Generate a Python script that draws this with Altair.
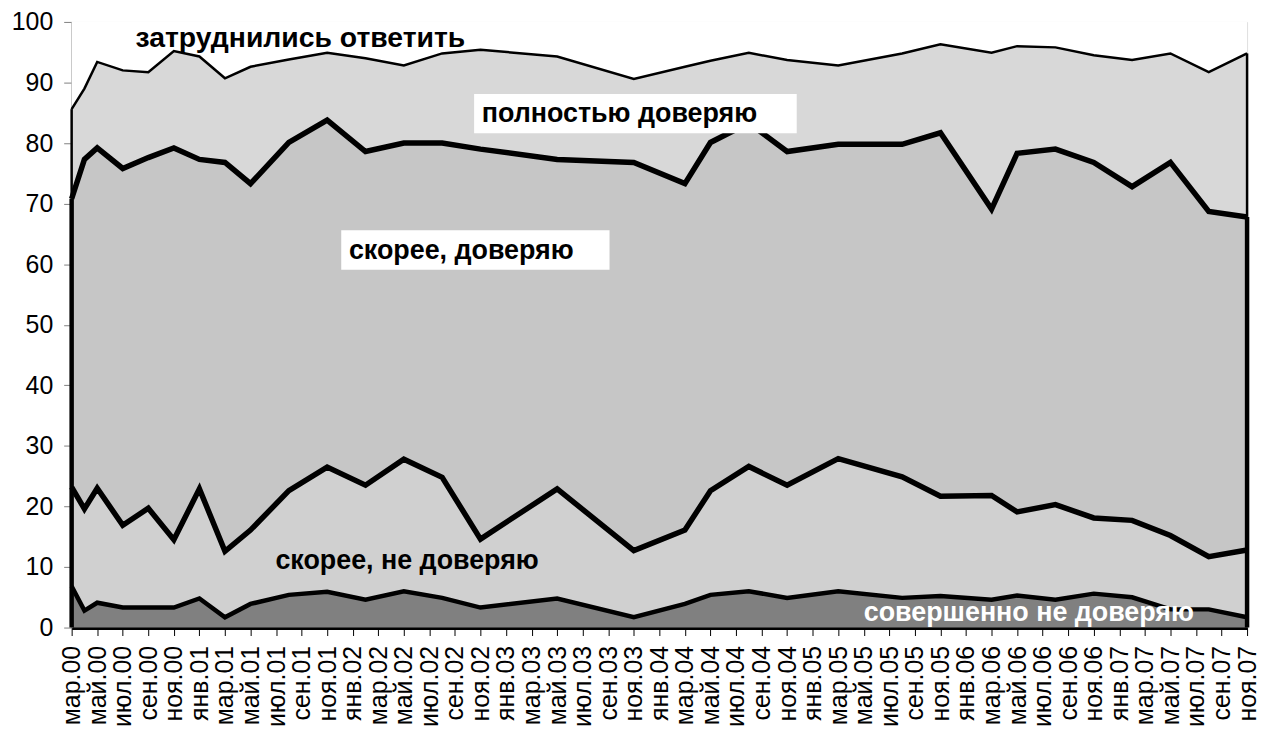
import altair as alt
import pandas as pd
import numpy as np

# survey dates as month index counted from March 2000 (0 = мар.00, 92 = ноя.07)
survey_month = [0, 1, 2, 4, 6, 8, 10, 12, 14, 17, 20, 23, 26, 29, 32, 38, 44,
                48, 50, 53, 56, 60, 65, 68, 72, 74, 77, 80, 83, 86, 89, 92]

# shares, % (bottom to top of the stack)
fully_distrust = [6.8, 2.8, 4.1, 3.3, 3.3, 3.3, 4.8, 1.7, 3.9, 5.4, 5.9, 4.6, 6.0, 4.9, 3.3, 4.8, 1.7,
                  3.9, 5.4, 6.0, 4.9, 6.0, 4.9, 5.2, 4.6, 5.3, 4.6, 5.6, 5.0, 3.0, 3.0, 1.7]
rather_distrust = [16.4, 16.8, 18.9, 13.6, 16.4, 11.2, 18.1, 10.9, 12.2, 17.2, 20.6, 18.9, 21.8, 19.9, 11.3, 18.1, 11.0,
                   12.2, 17.2, 20.6, 18.6, 21.9, 20.0, 16.5, 17.2, 13.8, 15.7, 12.5, 12.7, 12.2, 8.7, 11.1]
rather_trust = [47.6, 57.7, 56.2, 58.9, 57.9, 64.7, 54.4, 64.2, 57.2, 57.5, 57.3, 55.1, 52.2, 55.2, 64.4, 54.4, 64.1,
                57.2, 57.5, 56.7, 55.1, 51.9, 54.9, 60.0, 47.3, 59.2, 58.7, 58.7, 55.1, 61.6, 57.0, 55.0]
fully_trust = [14.8, 11.7, 14.2, 16.2, 14.1, 16.0, 17.0, 13.9, 19.3, 13.7, 11.1, 15.4, 12.8, 14.8, 16.4, 17.0, 13.8,
               19.3, 13.5, 11.6, 15.1, 13.0, 15.0, 14.6, 25.8, 17.7, 16.8, 17.7, 20.9, 18.0, 23.0, 27.0]
hard_to_say = [14.4, 11.0, 6.6, 8.0, 8.3, 4.8, 5.7, 9.3, 7.4, 6.2, 5.1, 6.0, 7.2, 5.2, 4.6, 5.7, 9.4,
               7.4, 6.4, 5.1, 6.3, 7.2, 5.2, 3.7, 5.1, 4.0, 4.2, 5.5, 6.3, 5.2, 8.3, 5.2]

series_names = ["совершенно не доверяю", "скорее, не доверяю", "скорее, доверяю",
                "полностью доверяю", "затруднились ответить"]
series_values = [fully_distrust, rather_distrust, rather_trust, fully_trust, hard_to_say]

tick_labels = ["мар.00", "май.00", "июл.00", "сен.00", "ноя.00",
               "янв.01", "мар.01", "май.01", "июл.01", "сен.01", "ноя.01",
               "янв.02", "мар.02", "май.02", "июл.02", "сен.02", "ноя.02",
               "янв.03", "мар.03", "май.03", "июл.03", "сен.03", "ноя.03",
               "янв.04", "мар.04", "май.04", "июл.04", "сен.04", "ноя.04",
               "янв.05", "мар.05", "май.05", "июл.05", "сен.05", "ноя.05",
               "янв.06", "мар.06", "май.06", "июл.06", "сен.06", "ноя.06",
               "янв.07", "мар.07", "май.07", "июл.07", "сен.07", "ноя.07"]

# annotation texts (placed in data coordinates: month index, %)
label_text = ["затруднились ответить", "полностью доверяю", "скорее, доверяю",
              "скорее, не доверяю", "совершенно не доверяю"]
label_month = [5.0, 32.1, 21.7, 15.95, 62.0]
label_value = [95.9, 83.5, 60.8, 9.6, 1.0]
label_color = ["black", "black", "black", "black", "white"]
label_size = [28.5, 27, 27, 27, 27]

box_month = [31.5, 21.1]
box_month2 = [56.75, 42.1]
box_value = [81.6, 59.1]
box_value2 = [88.1, 65.6]

# ---- styles
FONT = "Liberation Sans"
fills = ["#808080", "#d0d0d0", "#c6c6c6", "#d8d8d8", "#ffffff"]
line_widths = [4.5, 5.5, 5.5, 2.5]

# ---- build long table with stacked bounds
rows = []
cum = np.zeros(len(survey_month))
for k, (name, vals) in enumerate(zip(series_names, series_values)):
    v = np.array(vals, dtype=float)
    lo = cum.copy()
    cum = cum + v
    for i, m in enumerate(survey_month):
        rows.append({"m": m, "lo": lo[i], "hi": cum[i], "series": name, "k": k})
df = pd.DataFrame(rows)

xscale = alt.Scale(domain=[0, 92], nice=False, zero=False)
yscale = alt.Scale(domain=[0, 100], nice=False, zero=True)

label_expr = "[" + ",".join("'%s'" % t for t in tick_labels) + "][round(datum.value / 2)]"

x_axis = alt.Axis(values=list(range(0, 93, 2)), labelExpr=label_expr, labelAngle=270,
                  labelFontSize=25, labelFont=FONT, labelColor="black", labelPadding=10,
                  labelOverlap=False, labelFlush=False, labelBound=False,
                  tickSize=8, tickColor="black", tickWidth=1, domainColor="black",
                  domainWidth=4, grid=False, title=None)
y_axis = alt.Axis(values=list(range(0, 101, 10)), labelFontSize=25, labelFont=FONT,
                  labelColor="black", labelPadding=11, tickSize=8, tickColor="#808080",
                  labelOverlap=False, labelFlush=False,
                  domainColor="#808080", domainWidth=1.5, grid=False, title=None)


def X(field):
    return alt.X(field, scale=xscale, axis=x_axis)


def Y(field):
    return alt.Y(field, scale=yscale, axis=y_axis)


areas = alt.Chart(df).mark_area(opacity=1, interpolate="linear").encode(
    x=X("m:Q"),
    y=Y("lo:Q"),
    y2="hi:Q",
    color=alt.Color("series:N", scale=alt.Scale(domain=series_names, range=fills), legend=None),
    detail="series:N",
)

line_layers = []
for k in range(4):
    line_layers.append(
        alt.Chart(df[df.k == k]).mark_line(color="black", strokeWidth=line_widths[k],
                                           strokeJoin="miter").encode(
            x=X("m:Q"),
            y=Y("hi:Q"),
        )
    )

# vertical edges of the stacked areas at both ends
thick_rows, thin_rows = [], []
for idx in [0, len(survey_month) - 1]:
    top3 = sum(series_values[j][idx] for j in range(3))
    top4 = top3 + series_values[3][idx]
    thick_rows.append({"m": survey_month[idx], "a": 0.0, "b": top3})
    thin_rows.append({"m": survey_month[idx], "a": top3, "b": top4})
edge_thick = alt.Chart(pd.DataFrame(thick_rows)).mark_rule(color="black", strokeWidth=4.5).encode(
    x=X("m:Q"), y=Y("a:Q"), y2="b:Q")
edge_thin = alt.Chart(pd.DataFrame(thin_rows)).mark_rule(color="black", strokeWidth=2.5).encode(
    x=X("m:Q"), y=Y("a:Q"), y2="b:Q")

boxes_df = pd.DataFrame({"m": box_month, "m2": box_month2, "v": box_value, "v2": box_value2})
boxes = alt.Chart(boxes_df).mark_rect(color="white", opacity=1).encode(
    x=X("m:Q"), x2="m2:Q",
    y=Y("v:Q"), y2="v2:Q",
)

labels_df = pd.DataFrame({"m": label_month, "v": label_value, "t": label_text,
                          "c": label_color, "s": label_size})
texts = alt.Chart(labels_df).mark_text(align="left", baseline="alphabetic", font=FONT,
                                       fontWeight="bold").encode(
    x=X("m:Q"),
    y=Y("v:Q"),
    text="t:N",
    color=alt.Color("c:N", scale=None),
    size=alt.Size("s:Q", scale=None),
)

chart = alt.layer(areas, *line_layers, edge_thick, edge_thin, boxes, texts).properties(
    width=1182, height=609,
    autosize=alt.AutoSizeParams(type="none"),
    padding={"left": 64, "top": 12, "right": 14, "bottom": 100},
).configure_view(stroke="#808080", strokeWidth=1.5).configure_axis(
    labelOverlap=False
).configure(background="white")

chart.save("out.html", embed_options={"renderer": "svg", "actions": False})
